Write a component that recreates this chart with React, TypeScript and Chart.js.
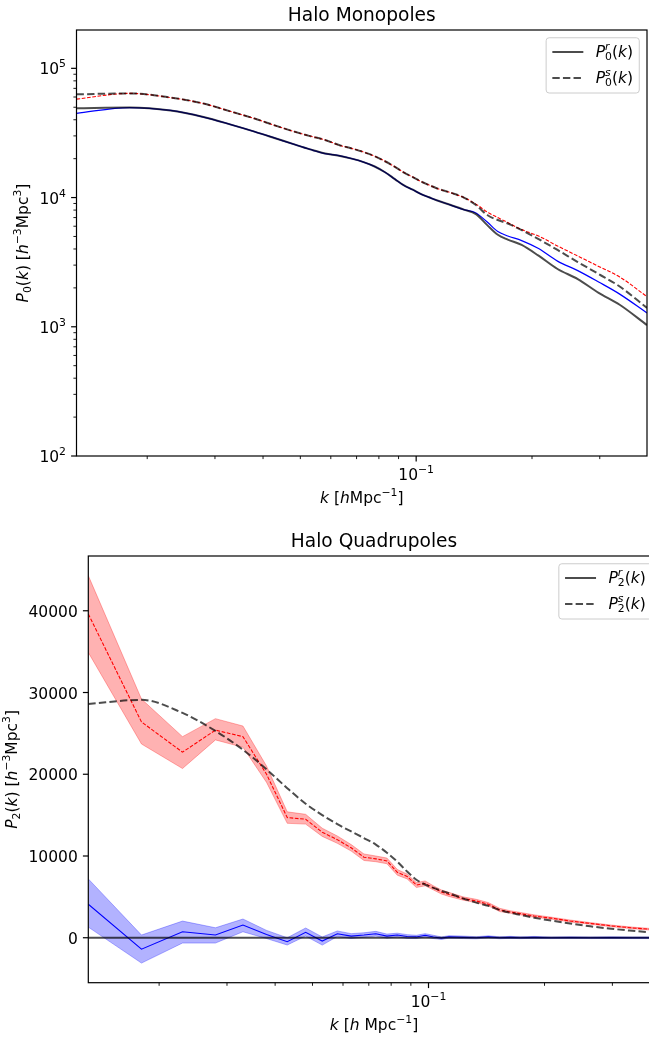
import React, { useEffect, useRef } from "react";
import { Chart, registerables } from "chart.js";
Chart.register(...registerables);

// ---------------- data ----------------
const kBins = [0.0131, 0.018, 0.023, 0.028, 0.033, 0.038, 0.043, 0.048, 0.053, 0.058, 0.063, 0.068, 0.073, 0.078, 0.083, 0.088, 0.093, 0.098, 0.103, 0.108, 0.113, 0.123, 0.133, 0.143, 0.153, 0.163, 0.173, 0.188, 0.208, 0.233, 0.263, 0.298, 0.338, 0.398];

// Monopoles
const p0RealMeasured = [49000, 49700, 47100, 42000, 36700, 32400, 28800, 25900, 23600, 21900, 21100, 20000, 18800, 17400, 15700, 13900, 12400, 11500, 10640, 10050, 9530, 8750, 8070, 7450, 6120, 5150, 4730, 4300, 3550, 2800, 2340, 1830, 1480, 1030];
const p0RealModel = [44900, 49700, 47200, 42000, 36700, 32400, 28800, 25900, 23600, 21900, 21100, 20000, 18800, 17400, 15700, 13900, 12400, 11500, 10640, 10050, 9530, 8750, 8070, 7600, 6460, 5460, 5040, 4650, 4030, 3220, 2720, 2220, 1790, 1280];
const p0RedshiftMeasured = [62900, 64000, 59400, 53400, 46300, 40900, 36100, 32500, 29900, 27900, 25500, 24000, 22500, 20900, 19100, 17300, 15600, 14400, 13300, 12500, 11800, 10900, 10000, 8750, 7330, 6700, 6300, 5600, 4770, 3930, 3170, 2560, 2050, 1400];
const p0RedshiftModel = [57800, 64000, 59400, 53400, 46300, 40900, 36100, 32500, 29900, 27900, 25500, 24000, 22500, 20900, 19100, 17300, 15600, 14400, 13300, 12500, 11800, 10900, 10000, 8900, 7730, 7000, 6400, 5650, 5040, 4220, 3530, 2930, 2430, 1710];

// Quadrupoles
const p2RedshiftModel = [39600, 26400, 22700, 25400, 24600, 20000, 14700, 14500, 12900, 12000, 11000, 9850, 9650, 9400, 8000, 7500, 6450, 6650, 6100, 5600, 5300, 4800, 4500, 4100, 3400, 3150, 2950, 2650, 2400, 2050, 1750, 1450, 1200, 950];
const p2RedshiftModelLow = [34900, 23700, 20700, 24200, 23300, 19000, 14000, 13900, 12400, 11550, 10600, 9450, 9300, 9050, 7650, 7200, 6150, 6350, 5850, 5350, 5050, 4600, 4300, 3900, 3200, 3000, 2800, 2500, 2280, 1930, 1650, 1350, 1100, 850];
const p2RedshiftModelHigh = [44300, 29200, 24600, 26800, 25900, 21000, 15400, 15100, 13400, 12450, 11400, 10250, 10000, 9750, 8350, 7800, 6750, 6950, 6350, 5850, 5550, 5000, 4700, 4300, 3600, 3300, 3100, 2800, 2520, 2170, 1850, 1550, 1300, 1050];
const p2RedshiftMeasured = [28600, 29100, 27500, 25300, 23000, 20600, 18300, 16400, 15000, 13900, 13000, 12200, 11400, 10400, 9300, 8100, 7100, 6500, 6100, 5750, 5450, 4800, 4300, 3900, 3400, 3050, 2800, 2450, 2100, 1750, 1400, 1100, 850, 550];
const p2RealModel = [4100, -1400, 730, 330, 1550, 400, -490, 660, -400, 490, 200, 330, 490, 200, 330, 150, 100, 300, 100, -50, 100, 50, 0, 100, 0, 50, 0, 50, 0, 30, 0, 20, 0, 0];
const p2RealModelLow = [1300, -3100, -650, -650, 730, -100, -890, 200, -900, 150, -100, 50, 200, -50, 100, -80, -100, 100, -100, -200, -50, -100, -130, -30, -120, -70, -110, -60, -100, -70, -100, -80, -100, -100];
const p2RealModelHigh = [7200, 330, 2040, 1220, 2290, 900, 0, 1190, 100, 830, 500, 610, 780, 450, 560, 380, 300, 500, 300, 100, 250, 200, 130, 230, 120, 170, 110, 160, 100, 130, 100, 120, 100, 100];
const p2RealMeasured = [0, 0, 0, 0, 0, 0, 0, 0, 0, 0, 0, 0, 0, 0, 0, 0, 0, 0, 0, 0, 0, 0, 0, 0, 0, 0, 0, 0, 0, 0, 0, 0, 0, 0];

// ticks
const xMajorTicks = [0.1];
const xMinorTicks = [0.02, 0.03, 0.04, 0.05, 0.06, 0.07, 0.08, 0.09, 0.2, 0.3];
const yMajorTop = [100, 1000, 10000, 100000];
const yMajorTopExp = ["2", "3", "4", "5"];
const yMinorTop = [200, 300, 400, 500, 600, 700, 800, 900, 2000, 3000, 4000, 5000, 6000, 7000, 8000, 9000, 20000, 30000, 40000, 50000, 60000, 70000, 80000, 90000];
const yMajorBottom = [0, 10000, 20000, 30000, 40000];
const yMajorBottomLabels = ["0", "10000", "20000", "30000", "40000"];

// ---------------- math text helper ----------------
type Tok = { t: string; it?: boolean; pos?: "sup" | "sub"; stack?: boolean };
const FAM = '"DejaVu Sans", "Liberation Sans", sans-serif';
function fontFor(tk: Tok, size: number) {
  const s = tk.pos ? size * 0.7 : size;
  return `${tk.it ? "italic " : ""}${s}px ${FAM}`;
}
function mathWidth(ctx: CanvasRenderingContext2D, toks: Tok[], size: number) {
  let x = 0;
  let stackW = -1;
  for (const tk of toks) {
    ctx.font = fontFor(tk, size);
    const w = ctx.measureText(tk.t).width;
    if (tk.stack) { stackW = w; continue; }
    x += stackW >= 0 ? Math.max(stackW, w) : w;
    stackW = -1;
  }
  return x;
}
function drawMath(ctx: CanvasRenderingContext2D, toks: Tok[], x0: number, y: number, size: number, align: "left" | "center" | "right") {
  const W = mathWidth(ctx, toks, size);
  let x = align === "center" ? x0 - W / 2 : align === "right" ? x0 - W : x0;
  ctx.textAlign = "left";
  ctx.textBaseline = "alphabetic";
  let stackW = -1;
  for (const tk of toks) {
    ctx.font = fontFor(tk, size);
    const w = ctx.measureText(tk.t).width;
    const dy = tk.pos === "sup" ? -0.45 * size : tk.pos === "sub" ? 0.2 * size : 0;
    ctx.fillText(tk.t, x, y + dy);
    if (tk.stack) { stackW = w; continue; }
    x += stackW >= 0 ? Math.max(stackW, w) : w;
    stackW = -1;
  }
  return W;
}

const FS = 15.5;
const GRAY = "rgba(0,0,0,0.7)";

type AxesCfg = {
  title: string;
  xLabel: Tok[];
  yLabel: Tok[];
  yLabelX: number;
  yMajor: number[];
  yLabels: Tok[][];
  yMinor: number[];
  legend: Tok[][];
};

function axesPlugin(cfg: AxesCfg) {
  return {
    id: "mplAxes",
    afterDraw(chart: any) {
      const ctx: CanvasRenderingContext2D = chart.ctx;
      const a = chart.chartArea;
      const xs = chart.scales.x;
      const ys = chart.scales.y;
      ctx.save();
      ctx.fillStyle = "#000";
      ctx.strokeStyle = "#000";
      const seg = (x1: number, y1: number, x2: number, y2: number, w: number) => {
        ctx.lineWidth = w;
        ctx.beginPath();
        ctx.moveTo(x1, y1);
        ctx.lineTo(x2, y2);
        ctx.stroke();
      };
      // spines
      ctx.lineWidth = 1.2;
      ctx.strokeRect(a.left, a.top, a.right - a.left, a.bottom - a.top);
      // x ticks
      for (const v of xMinorTicks) {
        const px = xs.getPixelForValue(v);
        seg(px, a.bottom, px, a.bottom + 3.1, 0.9);
      }
      xMajorTicks.forEach((v) => {
        const px = xs.getPixelForValue(v);
        seg(px, a.bottom, px, a.bottom + 5.4, 1.2);
        drawMath(ctx, [{ t: "10" }, { t: "\u22121", pos: "sup" }], px, a.bottom + 24, FS, "center");
      });
      // y ticks
      for (const v of cfg.yMinor) {
        const py = ys.getPixelForValue(v);
        seg(a.left - 3.1, py, a.left, py, 0.9);
      }
      cfg.yMajor.forEach((v, i) => {
        const py = ys.getPixelForValue(v);
        seg(a.left - 5.4, py, a.left, py, 1.2);
        drawMath(ctx, cfg.yLabels[i], a.left - 10.5, py + 6, FS, "right");
      });
      // axis labels
      const cx = (a.left + a.right) / 2;
      drawMath(ctx, cfg.xLabel, cx, a.bottom + 47, FS, "center");
      ctx.save();
      ctx.translate(cfg.yLabelX, (a.top + a.bottom) / 2);
      ctx.rotate(-Math.PI / 2);
      drawMath(ctx, cfg.yLabel, 0, 0, FS, "center");
      ctx.restore();
      // title
      drawMath(ctx, [{ t: cfg.title }], cx, a.top - 9.3, 18.6, "center");
      // legend
      const tw = Math.max(...cfg.legend.map((t) => mathWidth(ctx, t, FS)));
      const right = a.right - 7.75;
      const top = a.top + 7.75;
      const textX = right - 6.2 - tw;
      const lineEnd = textX - 12.4;
      const lineStart = lineEnd - 31;
      const left = lineStart - 6.2;
      const bottom = a.top + 63;
      const r = 3;
      ctx.beginPath();
      ctx.moveTo(left + r, top);
      ctx.lineTo(right - r, top);
      ctx.arcTo(right, top, right, top + r, r);
      ctx.lineTo(right, bottom - r);
      ctx.arcTo(right, bottom, right - r, bottom, r);
      ctx.lineTo(left + r, bottom);
      ctx.arcTo(left, bottom, left, bottom - r, r);
      ctx.lineTo(left, top + r);
      ctx.arcTo(left, top, left + r, top, r);
      ctx.closePath();
      ctx.fillStyle = "rgba(255,255,255,0.8)";
      ctx.fill();
      ctx.strokeStyle = "#cccccc";
      ctx.lineWidth = 1;
      ctx.stroke();
      cfg.legend.forEach((toks, i) => {
        const cy = a.top + 22 + i * 26;
        ctx.strokeStyle = GRAY;
        ctx.lineWidth = 2;
        ctx.setLineDash(i === 1 ? [7.4, 3.2] : []);
        ctx.beginPath();
        ctx.moveTo(lineStart, cy);
        ctx.lineTo(lineEnd, cy);
        ctx.stroke();
        ctx.setLineDash([]);
        ctx.fillStyle = "#000";
        drawMath(ctx, toks, textX, cy + 5, FS, "left");
      });
      ctx.restore();
    },
  };
}

function pts(ys: number[]) {
  return kBins.map((k, i) => ({ x: k, y: ys[i] }));
}

function line(ys: number[], color: string, width: number, dash: number[] = [], smooth = false, fill: any = false, bg?: string) {
  return {
    data: pts(ys),
    borderColor: color,
    borderWidth: width,
    borderDash: dash,
    fill,
    backgroundColor: bg || "transparent",
    pointRadius: 0,
    tension: 0,
    cubicInterpolationMode: smooth ? "monotone" : "default",
  };
}

const pTok = (n: string, s: string): Tok[] => [
  { t: "P", it: true },
  { t: s, it: true, pos: "sup", stack: true },
  { t: n, pos: "sub" },
  { t: "(" },
  { t: "k", it: true },
  { t: ")" },
];

function topConfig(): any {
  return {
    type: "line",
    data: {
      datasets: [
        line(p0RealMeasured, GRAY, 2, [], true),
        line(p0RedshiftMeasured, GRAY, 2, [7.4, 3.2], true),
        line(p0RedshiftModel, "#ff0000", 1.1, [3.7, 1.6], true),
        line(p0RealModel, "#0000ff", 1.3, [], true),
      ],
    },
    options: {
      responsive: false,
      animation: false,
      devicePixelRatio: 1,
      layout: { padding: { left: 76.5, top: 30, right: 2, bottom: 64 } },
      plugins: { legend: { display: false }, title: { display: false }, tooltip: { enabled: false } },
      scales: {
        x: { type: "logarithmic", min: kBins[0], max: kBins[kBins.length - 1], display: false },
        y: { type: "logarithmic", min: 100, max: 198000, display: false },
      },
    },
    plugins: [
      axesPlugin({
        title: "Halo Monopoles",
        xLabel: [{ t: "k", it: true }, { t: " [" }, { t: "h", it: true }, { t: "Mpc" }, { t: "\u22121", pos: "sup" }, { t: "]" }],
        yLabel: [{ t: "P", it: true }, { t: "0", pos: "sub" }, { t: "(" }, { t: "k", it: true }, { t: ") [" }, { t: "h", it: true }, { t: "\u22123", pos: "sup" }, { t: "Mpc" }, { t: "3", pos: "sup" }, { t: "]" }],
        yLabelX: 28,
        yMajor: yMajorTop,
        yLabels: yMajorTopExp.map((e) => [{ t: "10" }, { t: e, pos: "sup" }] as Tok[]),
        yMinor: yMinorTop,
        legend: [pTok("0", "r"), pTok("0", "s")],
      }),
    ],
  };
}

function bottomConfig(): any {
  return {
    type: "line",
    data: {
      datasets: [
        line(p2RedshiftMeasured, GRAY, 2, [7.4, 3.2], true),
        line(p2RealMeasured, GRAY, 2),
        line(p2RedshiftModel, "#ff0000", 1.1, [3.7, 1.6]),
        line(p2RedshiftModelLow, "rgba(255,0,0,0.3)", 1),
        line(p2RedshiftModelHigh, "rgba(255,0,0,0.3)", 1, [], false, "-1", "rgba(255,0,0,0.3)"),
        line(p2RealModel, "#0000ff", 1.1),
        line(p2RealModelLow, "rgba(0,0,255,0.3)", 1),
        line(p2RealModelHigh, "rgba(0,0,255,0.3)", 1, [], false, "-1", "rgba(0,0,255,0.3)"),
      ],
    },
    options: {
      responsive: false,
      animation: false,
      devicePixelRatio: 1,
      layout: { padding: { left: 88.3, top: 36, right: 1.3, bottom: 55.3 } },
      plugins: { legend: { display: false }, title: { display: false }, tooltip: { enabled: false } },
      scales: {
        x: { type: "logarithmic", min: kBins[0], max: kBins[kBins.length - 1], display: false },
        y: { type: "linear", min: -5500, max: 46700, display: false },
      },
    },
    plugins: [
      axesPlugin({
        title: "Halo Quadrupoles",
        xLabel: [{ t: "k", it: true }, { t: " [" }, { t: "h", it: true }, { t: " Mpc" }, { t: "\u22121", pos: "sup" }, { t: "]" }],
        yLabel: [{ t: "P", it: true }, { t: "2", pos: "sub" }, { t: "(" }, { t: "k", it: true }, { t: ") [" }, { t: "h", it: true }, { t: "\u22123", pos: "sup" }, { t: "Mpc" }, { t: "3", pos: "sup" }, { t: "]" }],
        yLabelX: 17,
        yMajor: yMajorBottom,
        yLabels: yMajorBottomLabels.map((l) => [{ t: l }] as Tok[]),
        yMinor: [],
        legend: [pTok("2", "r"), pTok("2", "s")],
      }),
    ],
  };
}

function ChartCanvas(props: { make: () => any; width: number; height: number; top: number }) {
  const ref = useRef<HTMLCanvasElement>(null);
  useEffect(() => {
    const c = new Chart(ref.current as HTMLCanvasElement, props.make());
    return () => c.destroy();
  }, []);
  return (
    <canvas
      ref={ref}
      width={props.width}
      height={props.height}
      style={{ position: "absolute", left: 0, top: props.top, width: props.width, height: props.height }}
    />
  );
}

export default function App() {
  return (
    <div style={{ position: "absolute", left: 0, top: 0, width: 649, height: 1038, overflow: "hidden", background: "#fff" }}>
      <ChartCanvas make={topConfig} width={649} height={520} top={0} />
      <ChartCanvas make={bottomConfig} width={661} height={518} top={520} />
    </div>
  );
}
